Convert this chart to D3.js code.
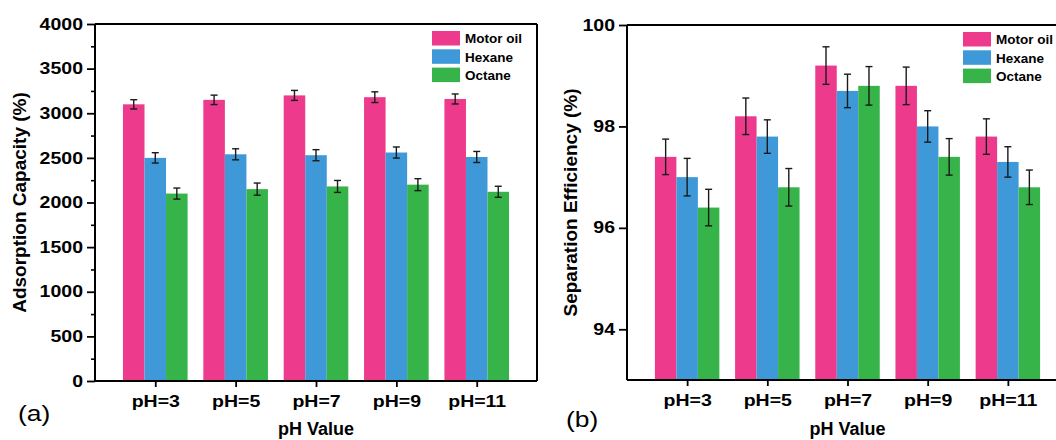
<!DOCTYPE html>
<html>
<head>
<meta charset="utf-8">
<script src="https://cdn.jsdelivr.net/npm/d3@7"></script>
<style>
  html, body { margin: 0; padding: 0; background: #fff; }
  svg { display: block; font-family: "Liberation Sans", Arial, sans-serif; }
</style>
</head>
<body>
<div id="chart"></div>
<script>
// categories and series
const categories = ["pH=3", "pH=5", "pH=7", "pH=9", "pH=11"];
const seriesNames = ["Motor oil", "Hexane", "Octane"];
const seriesColors = ["#ee3a8c", "#3f98d7", "#36b44a"];

// (a) adsorption capacity
const adsorptionMotorOil = [3100, 3150, 3200, 3180, 3160];
const adsorptionHexane = [2500, 2540, 2530, 2560, 2510];
const adsorptionOctane = [2100, 2150, 2180, 2200, 2120];
const adsorptionMotorOilErr = [52, 53, 56, 60, 56];
const adsorptionHexaneErr = [58, 62, 62, 62, 62];
const adsorptionOctaneErr = [62, 68, 67, 67, 62];
const adsorptionTicks = [0, 500, 1000, 1500, 2000, 2500, 3000, 3500, 4000];
const adsorptionMinorTicks = [250, 750, 1250, 1750, 2250, 2750, 3250, 3750];

// (b) separation efficiency
const efficiencyMotorOil = [97.4, 98.2, 99.2, 98.8, 97.8];
const efficiencyHexane = [97.0, 97.8, 98.7, 98.0, 97.3];
const efficiencyOctane = [96.4, 96.8, 98.8, 97.4, 96.8];
const efficiencyMotorOilErr = [0.35, 0.36, 0.37, 0.37, 0.35];
const efficiencyHexaneErr = [0.37, 0.33, 0.33, 0.31, 0.30];
const efficiencyOctaneErr = [0.36, 0.37, 0.38, 0.36, 0.34];
const efficiencyTicks = [94, 96, 98, 100];

const svg = d3.select("#chart")
  .append("svg")
    .attr("width", 1056)
    .attr("height", 440);

svg.append("rect").attr("width", 1056).attr("height", 440).attr("fill", "#fff");

const stretch = 1.22; // tick labels in the figure are drawn wide

function drawPanel(p) {
  let x = d3.scalePoint()
    .domain(categories)
    .range([p.left, p.right])
    .padding(0.75);
  let y = d3.scaleLinear()
    .domain(p.domain)
    .range([p.bottom, p.top]);
  let bw = x.step() * 0.268;

  const g = svg.append("g");

  // bars
  const series = [p.values[0], p.values[1], p.values[2]];
  series.forEach((vals, si) => {
    const off = (si - 1) * bw;
    g.append("g").selectAll("rect")
      .data(vals)
      .enter()
      .append("rect")
        .attr("x", (d, i) => x(categories[i]) + off - bw / 2)
        .attr("width", bw)
        .attr("y", d => y(d))
        .attr("height", d => p.bottom - y(d))
        .attr("fill", seriesColors[si]);

    // error bars
    const eg = g.append("g").attr("stroke", "#1a1a1a").attr("stroke-width", 1.4);
    vals.forEach((v, i) => {
      const cx = x(categories[i]) + off;
      const e = p.errors[si][i];
      eg.append("line").attr("x1", cx).attr("x2", cx).attr("y1", y(v + e)).attr("y2", y(v - e));
      eg.append("line").attr("x1", cx - 3.5).attr("x2", cx + 3.5).attr("y1", y(v + e)).attr("y2", y(v + e));
      eg.append("line").attr("x1", cx - 3.5).attr("x2", cx + 3.5).attr("y1", y(v - e)).attr("y2", y(v - e));
    });
  });

  // frame: top and right
  g.append("line")
    .attr("x1", p.left).attr("x2", p.right)
    .attr("y1", p.top).attr("y2", p.top)
    .attr("stroke", "#000").attr("stroke-width", 2);
  g.append("line")
    .attr("x1", p.right).attr("x2", p.right)
    .attr("y1", p.top).attr("y2", p.bottom)
    .attr("stroke", "#000").attr("stroke-width", 2);

  // minor ticks
  if (p.minor) {
    g.append("g")
      .attr("transform", "translate(" + p.left + ",0)")
      .call(d3.axisLeft(y).tickValues(p.minor).tickSize(4).tickSizeOuter(0).tickFormat(""))
      .call(a => a.select(".domain").remove())
      .selectAll("line").attr("stroke-width", 1.6);
  }

  // Y axis
  const ya = g.append("g")
    .attr("transform", "translate(" + p.left + ",0)")
    .call(d3.axisLeft(y).tickValues(p.ticks).tickFormat(d3.format("d"))
      .tickSize(8).tickSizeOuter(0).tickPadding(4));
  ya.select(".domain").attr("stroke-width", 2).attr("d", "M0," + p.top + "V" + p.bottom);
  ya.selectAll(".tick line").attr("stroke-width", 1.8);
  ya.selectAll("text")
    .attr("font-size", 16)
    .attr("font-weight", "bold")
    .attr("fill", "#000")
    .attr("x", -12 / stretch)
    .attr("transform", "scale(" + stretch + ",1)");

  // X axis
  const xa = g.append("g")
    .attr("transform", "translate(0," + p.bottom + ")")
    .call(d3.axisBottom(x).tickSize(6).tickSizeOuter(0));
  xa.select(".domain").attr("stroke-width", 2).attr("d", "M" + p.left + ",0H" + p.right);
  xa.selectAll(".tick line").attr("stroke-width", 1.8);
  xa.selectAll("text")
    .attr("font-size", 16)
    .attr("font-weight", "bold")
    .attr("fill", "#000")
    .attr("y", 26)
    .attr("dy", null)
    .attr("transform", "scale(" + stretch + ",1)");

  // axis titles
  g.append("text")
    .attr("transform", "translate(" + p.yTitleX + "," + ((p.top + p.bottom) / 2) + ") rotate(-90)")
    .attr("text-anchor", "middle")
    .attr("font-size", 19)
    .attr("font-weight", "bold")
    .text(p.yTitle);

  g.append("text")
    .attr("x", (p.left + p.right) / 2)
    .attr("y", 435)
    .attr("text-anchor", "middle")
    .attr("font-size", 18)
    .attr("font-weight", "bold")
    .text("pH Value");

  // panel letter
  g.append("text")
    .attr("transform", "translate(" + p.letterX + "," + p.letterY + ") scale(1.2,1)")
    .attr("font-size", 22)
    .text(p.letter);

  // legend
  const lg = g.append("g")
    .attr("transform", "translate(" + (p.right - 105) + "," + (p.top + 7) + ")");
  seriesNames.forEach((name, i) => {
    lg.append("rect")
      .attr("x", 0).attr("y", i * 18.3)
      .attr("width", 28).attr("height", 14.5)
      .attr("fill", seriesColors[i]);
    lg.append("text")
      .attr("x", 33).attr("y", i * 18.3 + 12.3)
      .attr("font-size", 13.5)
      .attr("font-weight", "bold")
      .text(name);
  });
}

drawPanel({
  left: 95, right: 537, top: 24, bottom: 381,
  domain: [0, 4000],
  ticks: adsorptionTicks,
  minor: adsorptionMinorTicks,
  values: [adsorptionMotorOil, adsorptionHexane, adsorptionOctane],
  errors: [adsorptionMotorOilErr, adsorptionHexaneErr, adsorptionOctaneErr],
  yTitle: "Adsorption Capacity (%)",
  yTitleX: 26,
  letter: "(a)", letterX: 18, letterY: 421
});

drawPanel({
  left: 627, right: 1068, top: 25, bottom: 380,
  domain: [93, 100],
  ticks: efficiencyTicks,
  minor: null,
  values: [efficiencyMotorOil, efficiencyHexane, efficiencyOctane],
  errors: [efficiencyMotorOilErr, efficiencyHexaneErr, efficiencyOctaneErr],
  yTitle: "Separation Efficiency (%)",
  yTitleX: 577,
  letter: "(b)", letterX: 566, letterY: 427
});
</script>
</body>
</html>
